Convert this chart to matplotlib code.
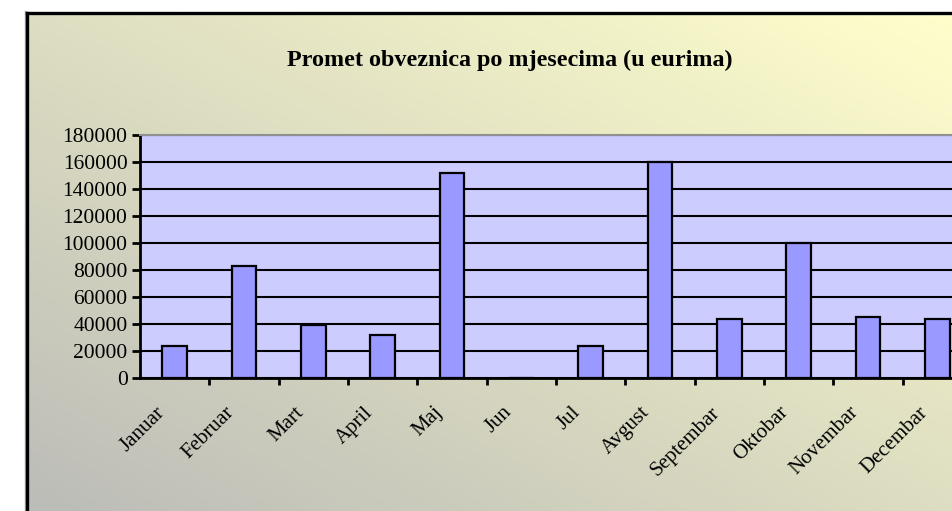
"""Monthly bond turnover bar chart (Excel style, cropped on the right)."""

import matplotlib

matplotlib.use("Agg")
import matplotlib.pyplot as plt
import numpy as np
from matplotlib import ticker
from matplotlib.colors import to_rgb
from matplotlib.transforms import ScaledTranslation

# data
months = [
    "Januar", "Februar", "Mart", "April", "Maj", "Jun",
    "Jul", "Avgust", "Septembar", "Oktobar", "Novembar", "Decembar",
]
turnover = [24000, 83000, 39000, 32000, 152000, 0,
            24000, 160000, 43700, 100000, 45300, 43700]
y_ticks = list(range(0, 180001, 20000))
title = "Promet obveznica po mjesecima (u eurima)"

W, H, DPI = 952, 511, 100
SERIF = ["Liberation Serif", "DejaVu Serif"]

fig = plt.figure(figsize=(W / DPI, H / DPI), dpi=DPI)
fig.patch.set_facecolor("white")

# chart area background: diagonal gradient grey -> pale yellow
x0, y0 = 27 / W, 1 - 13 / H
bg = fig.add_axes([x0, 0, 1 - x0, y0], zorder=0)
gx, gy = np.meshgrid(np.linspace(0, 1, 200), np.linspace(1, 0, 120))
t = ((gx + gy) / 2)[..., None]
c_lo, c_hi = np.array(to_rgb("#bcbcb8")), np.array(to_rgb("#ffffcc"))
bg.imshow(c_lo + (c_hi - c_lo) * t, aspect="auto", extent=(0, 1, 0, 1), origin="upper")
bg.set_axis_off()

# frame of chart area (only left and top edges visible)
fig.add_artist(plt.Line2D([x0, x0], [0, y0], transform=fig.transFigure,
                          color="black", lw=2.4, zorder=5))
fig.add_artist(plt.Line2D([x0, 1], [y0, y0], transform=fig.transFigure,
                          color="black", lw=2.4, zorder=5))
fig.add_artist(plt.Line2D([x0 - 2.5 / W] * 2, [0, y0 + 1.5 / H], transform=fig.transFigure,
                          color="#a0a0a0", lw=1, zorder=4))

# plot area: extends past the right edge, like the cropped reference
left, right = 140 / W, 972 / W
bottom, top = 1 - 378 / H, 1 - 135 / H
ax = fig.add_axes([left, bottom, right - left, top - bottom], zorder=2)
ax.set_facecolor("#ccccff")

x = np.arange(len(months))
ax.bar(x, turnover, width=0.36, color="#9999ff", edgecolor="black",
       linewidth=1.6, zorder=3)

ax.set_xlim(-0.5, len(months) - 0.5)
ax.set_ylim(0, 180000)
ax.yaxis.set_major_locator(ticker.FixedLocator(y_ticks))
ax.yaxis.grid(True, color="black", linewidth=1.5, zorder=1)
ax.set_axisbelow(True)

ax.set_xticks(x)
ax.set_xticklabels(months, rotation=45, ha="right", va="top",
                   rotation_mode="anchor", family=SERIF, fontsize=15)
ax.set_xticks(x[:-1] + 0.5, minor=True)
ax.tick_params(axis="x", which="major", length=0, pad=18)
ax.tick_params(axis="x", which="minor", length=5, width=2, direction="out")
for lbl in ax.get_xticklabels():
    lbl.set_transform(lbl.get_transform() + ScaledTranslation(-14 / 72, 0, fig.dpi_scale_trans))

ax.tick_params(axis="y", length=6, width=2, direction="out", pad=3)
for lbl in ax.get_yticklabels():
    lbl.set_family(SERIF)
    lbl.set_fontsize(15.5)

for side in ("left", "bottom"):
    ax.spines[side].set_linewidth(2)
    ax.spines[side].set_color("black")
for side in ("top", "right"):
    ax.spines[side].set_linewidth(1.5)
    ax.spines[side].set_color("#909090")

fig.text(510 / W, 1 - 60 / H, title, ha="center", va="center",
         family=SERIF, fontsize=17.4, fontweight="bold", zorder=6)

fig.savefig("out.png", dpi=DPI)
